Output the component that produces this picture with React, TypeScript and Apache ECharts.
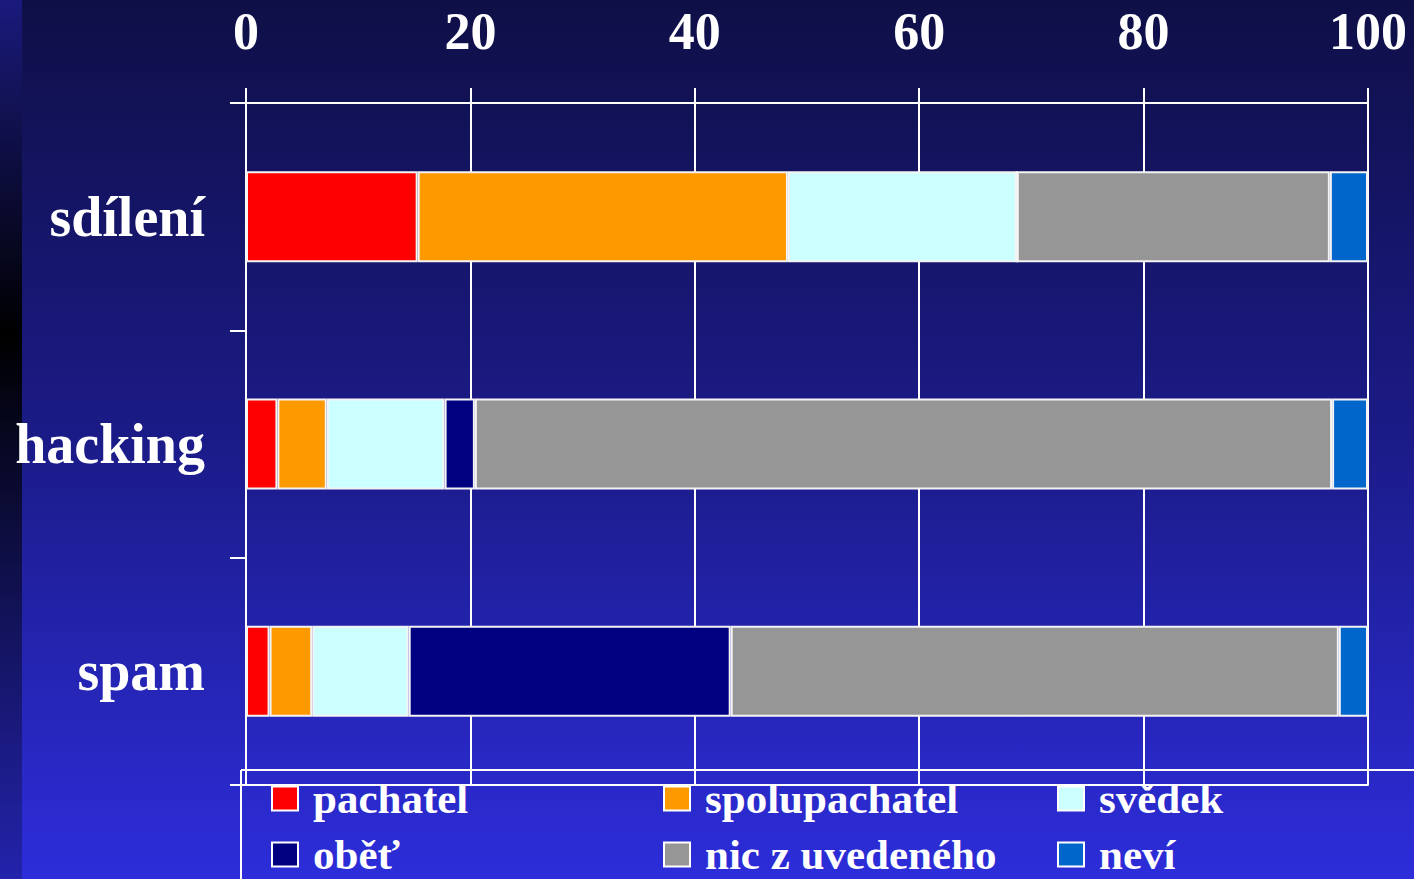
import React, { useEffect, useRef } from "react";
import * as echarts from "echarts";

const categories = ["sdílení", "hacking", "spam"];
const xTicks = [0, 20, 40, 60, 80, 100];
const seriesNames = ["pachatel", "spolupachatel", "svědek", "oběť", "nic z uvedeného", "neví"];
const pachatel = [15.3, 2.8, 2.1];
const spolupachatel = [33.0, 4.4, 3.8];
const svedek = [20.4, 10.5, 8.6];
const obet = [0, 2.7, 28.7];
const nicZUvedeneho = [27.9, 76.4, 54.2];
const nevi = [3.4, 3.2, 2.6];
const colors = ["#ff0000", "#ff9900", "#ccffff", "#000080", "#969696", "#0066cc"];

const FONT = "'Liberation Serif', 'Times New Roman', serif";

export default function App() {
  const ref = useRef<HTMLDivElement>(null);
  useEffect(() => {
    if (!ref.current) return;
    const chart = echarts.init(ref.current, undefined, { renderer: "svg" });
    const values = [pachatel, spolupachatel, svedek, obet, nicZUvedeneho, nevi];
    const legendText = {
      color: "#ffffff",
      fontFamily: FONT,
      fontWeight: "bold" as const,
      fontSize: 43,
      lineHeight: 40,
      padding: [0, 0, 0, 10],
    };
    const legendBase = {
      orient: "vertical" as const,
      top: 777,
      padding: 0,
      itemGap: 13,
      itemWidth: 26,
      itemHeight: 24,
      icon: "rect",
      itemStyle: { borderColor: "#ffffff", borderWidth: 2 },
      textStyle: legendText,
      selectedMode: false,
    };
    chart.setOption({
      animation: false,
      backgroundColor: "transparent",
      grid: { left: 246, right: 46, top: 103, bottom: 94, containLabel: false },
      xAxis: [
        {
          type: "value",
          position: "top",
          min: 0,
          max: 100,
          interval: 20,
          axisLine: { show: true, lineStyle: { color: "#ffffff", width: 2 } },
          axisTick: { show: true, length: 15, lineStyle: { color: "#ffffff", width: 2 } },
          splitLine: { show: true, lineStyle: { color: "#ffffff", width: 2 } },
          axisLabel: {
            show: true,
            margin: 46,
            color: "#ffffff",
            fontFamily: FONT,
            fontWeight: "bold",
            fontSize: 52,
            formatter: (v: number) => (xTicks.includes(v) ? String(v) : ""),
          },
        },
        {
          type: "value",
          position: "bottom",
          min: 0,
          max: 100,
          axisLine: { show: true, lineStyle: { color: "#ffffff", width: 2 } },
          axisTick: { show: false },
          splitLine: { show: false },
          axisLabel: { show: false },
        },
      ],
      yAxis: {
        type: "category",
        data: categories,
        inverse: true,
        axisLine: { show: true, lineStyle: { color: "#ffffff", width: 2 } },
        axisTick: { show: true, length: 16, lineStyle: { color: "#ffffff", width: 2 } },
        splitLine: { show: false },
        axisLabel: {
          margin: 41,
          color: "#ffffff",
          fontFamily: FONT,
          fontWeight: "bold",
          fontSize: 56,
        },
      },
      legend: [
        { ...legendBase, left: 271, data: [seriesNames[0], seriesNames[3]] },
        { ...legendBase, left: 663, data: [seriesNames[1], seriesNames[4]] },
        { ...legendBase, left: 1057, data: [seriesNames[2], seriesNames[5]] },
      ],
      graphic: [
        {
          type: "rect",
          z: -10,
          silent: true,
          shape: { x: 0, y: 0, width: 22, height: 879 },
          style: {
            fill: new echarts.graphic.LinearGradient(0, 0, 0, 1, [
              { offset: 0, color: "#1a1a7c" },
              { offset: 0.38, color: "#000000" },
              { offset: 1, color: "#2323ac" },
            ]),
          },
        },
        {
          type: "line",
          silent: true,
          shape: { x1: 241, y1: 770, x2: 1414, y2: 770 },
          style: { stroke: "#ffffff", lineWidth: 2 },
        },
        {
          type: "line",
          silent: true,
          shape: { x1: 241, y1: 770, x2: 241, y2: 879 },
          style: { stroke: "#ffffff", lineWidth: 2 },
        },
      ],
      series: seriesNames.map((name, i) => ({
        name,
        type: "bar",
        stack: "total",
        xAxisIndex: 0,
        barWidth: 91,
        data: values[i],
        itemStyle: { color: colors[i], borderColor: "#f4f4f4", borderWidth: 2 },
      })),
    });
    return () => chart.dispose();
  }, []);
  return (
    <div
      ref={ref}
      style={{
        position: "fixed",
        left: 0,
        top: 0,
        width: 1414,
        height: 879,
        background: "linear-gradient(to bottom, #0f0f47 0%, #1b1b88 50%, #2d2dda 100%)",
      }}
    />
  );
}
